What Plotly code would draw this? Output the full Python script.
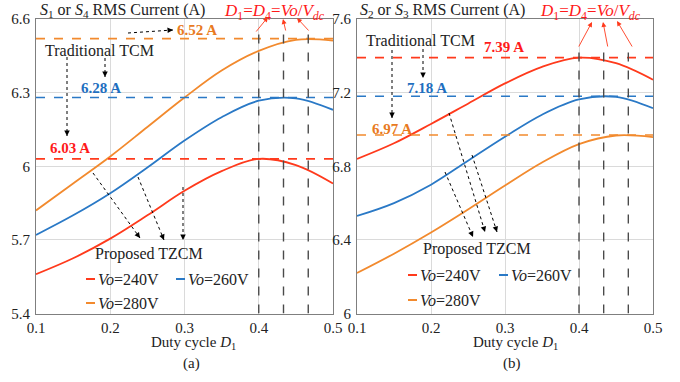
import plotly.graph_objects as go
from plotly.subplots import make_subplots

# ---------------- data ----------------
duty = [0.1, 0.15, 0.2, 0.25, 0.3, 0.35, 0.4, 0.45, 0.5]

# (a) S1 or S4 RMS current, proposed TZCM
a_240 = [5.56, 5.625, 5.705, 5.80, 5.90, 5.98, 6.03, 6.005, 5.93]
a_260 = [5.72, 5.80, 5.89, 5.995, 6.105, 6.20, 6.267, 6.277, 6.23]
a_280 = [5.82, 5.93, 6.04, 6.16, 6.28, 6.39, 6.47, 6.515, 6.512]
a_trad = [6.03, 6.28, 6.52]  # traditional TCM (240, 260, 280 V)

# (b) S2 or S3 RMS current, proposed TZCM
b_240 = [6.84, 6.925, 7.03, 7.14, 7.25, 7.34, 7.39, 7.36, 7.27]
b_260 = [6.53, 6.60, 6.70, 6.83, 6.96, 7.08, 7.163, 7.177, 7.115]
b_280 = [6.22, 6.325, 6.44, 6.565, 6.695, 6.82, 6.92, 6.967, 6.958]
b_trad = [7.39, 7.18, 6.97]

vo_labels = ["240V", "260V", "280V"]
d_opt = [240 / 600, 260 / 600, 280 / 600]   # D1 = D4 = Vo/Vdc

RED, BLUE, ORANGE = "#FF3A1C", "#2A79C6", "#F28A2E"
TRED, TBLUE, TORANGE = "#FF1A1A", "#1F6FC0", "#E87A22"
colors = [RED, BLUE, ORANGE]
FONT = "Liberation Serif"
W, H = 680, 382

fig = make_subplots(rows=1, cols=2)

for col, series in [(1, [a_240, a_260, a_280]), (2, [b_240, b_260, b_280])]:
    for s, c, lab in zip(series, colors, vo_labels):
        fig.add_trace(go.Scatter(x=duty, y=s, mode="lines", line=dict(color=c, width=1.8, shape="spline", smoothing=1.0),
                                 name="Vo=" + lab, showlegend=False), row=1, col=col)

def px(x):
    return x / W
def py(y):
    return 1 - y / H

ydom = [py(313.5), py(19)]
fig.update_layout(
    width=W, height=H, margin=dict(l=0, r=0, t=0, b=0, pad=0, autoexpand=False),
    paper_bgcolor="white", plot_bgcolor="white", showlegend=False,
    font=dict(family=FONT, size=15, color="#222"),
    xaxis=dict(domain=[px(36), px(333)], range=[0.1, 0.5], dtick=0.1, tick0=0.1),
    xaxis2=dict(domain=[px(357), px(653)], range=[0.1, 0.5], dtick=0.1, tick0=0.1),
    yaxis=dict(domain=ydom, range=[5.4, 6.6], dtick=0.3, tick0=5.4),
    yaxis2=dict(domain=ydom, range=[6.0, 7.6], dtick=0.4, tick0=6.0),
)
fig.update_xaxes(showgrid=True, gridcolor="#DADADA", gridwidth=1, zeroline=False, automargin=False,
                 showline=True, linecolor="#7F7F7F", linewidth=1, mirror=True,
                 ticks="", tickfont=dict(family=FONT, size=15, color="#222"), ticklabelstandoff=0)
fig.update_yaxes(showgrid=True, gridcolor="#DADADA", gridwidth=1, zeroline=False, automargin=False,
                 showline=True, linecolor="#7F7F7F", linewidth=1, mirror=True,
                 ticks="", tickfont=dict(family=FONT, size=15, color="#222"), ticklabelstandoff=2,
                 tickformat="~g")

shapes = []
annotations = []

for xr, yr, vals in [("x", "y", a_trad), ("x2", "y2", b_trad)]:
    for v, c in zip(vals, colors):
        shapes.append(dict(type="line", xref=xr + " domain", yref=yr, x0=0, x1=1, y0=v, y1=v,
                           line=dict(color=c, width=1.6, dash="dash")))

for xr, yr, ytop, ybot in [("x", "y", 6.543, 5.4), ("x2", "y2", 7.443, 6.0)]:
    for d in d_opt:
        shapes.append(dict(type="line", xref=xr, yref=yr, x0=d, x1=d, y0=ybot, y1=ytop,
                           line=dict(color="#4A4A4A", width=1.4, dash="dash")))

def text(x, y, t, color="#222", size=15, xanchor="left", bold=False):
    if bold:
        t = "<b>" + t + "</b>"
    annotations.append(dict(x=px(x), y=py(y), xref="paper", yref="paper", text=t, showarrow=False,
                            xanchor=xanchor, yanchor="middle", borderpad=0,
                            font=dict(family=FONT, size=size, color=color)))

def arrow(x0, y0, x1, y1, color="black", dotted=True, width=1):
    if dotted:
        shapes.append(dict(type="line", xref="paper", yref="paper", x0=px(x0), y0=py(y0), x1=px(x1), y1=py(y1),
                           line=dict(color=color, width=width, dash="dot")))
        dx, dy = x0 - x1, y0 - y1
        L = (dx * dx + dy * dy) ** 0.5
        ax, ay = dx / L * 6, dy / L * 6
    else:
        ax, ay = x0 - x1, y0 - y1
    annotations.append(dict(x=px(x1), y=py(y1), xref="paper", yref="paper", text="", showarrow=True,
                            ax=ax, ay=ay, arrowhead=2, arrowsize=1.1, arrowwidth=width, arrowcolor=color,
                            standoff=0, startstandoff=0))

formula = "<i>D</i><sub>1</sub>=<i>D</i><sub>4</sub>=<i>Vo</i>/<i>V<sub>dc</sub></i>"

# ---- panel (a)
text(39, 11, "<i>S</i><sub>1</sub> or <i>S</i><sub>4</sub> RMS Current (A)", size=16)
text(223, 12, formula, color=TRED, size=17)
text(176, 30, "6.52 A", color=TORANGE, size=15, bold=True)
text(44, 51, "Traditional TCM", size=16)
text(80, 88, "6.28 A", color=TBLUE, size=15, bold=True)
text(49, 148, "6.03 A", color=TRED, size=15, bold=True)
text(94, 254, "Proposed TZCM", size=16)
text(193, 343, "Duty cycle <i>D</i><sub>1</sub>", size=15, xanchor="center")
text(191, 363, "(a)", size=15, xanchor="center")
arrow(128, 33, 173, 30)
arrow(105, 58, 105, 77)
arrow(67, 57, 67, 136)
arrow(93, 173, 140, 238)
arrow(138, 177, 164, 240)
arrow(183, 187, 183, 240)
arrow(255, 33, 268, 17, color=RED, dotted=False, width=0.9)
arrow(286, 32, 283, 19, color=RED, dotted=False, width=0.9)
arrow(310, 32, 297, 18, color=RED, dotted=False, width=0.9)

# ---- panel (b)
text(359, 11, "<i>S</i><sub>2</sub> or <i>S</i><sub>3</sub> RMS Current (A)", size=16)
text(539, 12, formula, color=TRED, size=17)
text(365, 41, "Traditional TCM", size=16)
text(483, 47, "7.39 A", color=TRED, size=15, bold=True)
text(406, 88, "7.18 A", color=TBLUE, size=15, bold=True)
text(371, 129, "6.97 A", color=TORANGE, size=15, bold=True)
text(422, 249, "Proposed TZCM", size=16)
text(515, 343, "Duty cycle <i>D</i><sub>1</sub>", size=15, xanchor="center")
text(512, 363, "(b)", size=15, xanchor="center")
arrow(392, 50, 392, 118)
arrow(423, 49, 423, 78)
arrow(449, 113, 485, 232)
arrow(472, 155, 497, 232)
arrow(445, 172, 473, 237)
arrow(578, 48, 592, 22, color=RED, dotted=False, width=0.9)
arrow(608, 48, 603, 22, color=RED, dotted=False, width=0.9)
arrow(633, 48, 617, 21, color=RED, dotted=False, width=0.9)

# ---- legends (drawn manually)
def legend_item(x, y, color, lab):
    shapes.append(dict(type="line", xref="paper", yref="paper", x0=px(x), x1=px(x + 9), y0=py(y), y1=py(y),
                       line=dict(color=color, width=2)))
    text(x + 11, y, "<i>Vo</i>=" + lab, size=16)

legend_item(86, 279, RED, vo_labels[0])
legend_item(176, 279, BLUE, vo_labels[1])
legend_item(86, 303, ORANGE, vo_labels[2])
legend_item(408, 275, RED, vo_labels[0])
legend_item(499, 275, BLUE, vo_labels[1])
legend_item(408, 300, ORANGE, vo_labels[2])

fig.update_layout(shapes=shapes, annotations=annotations)
fig.write_html("out.html")
